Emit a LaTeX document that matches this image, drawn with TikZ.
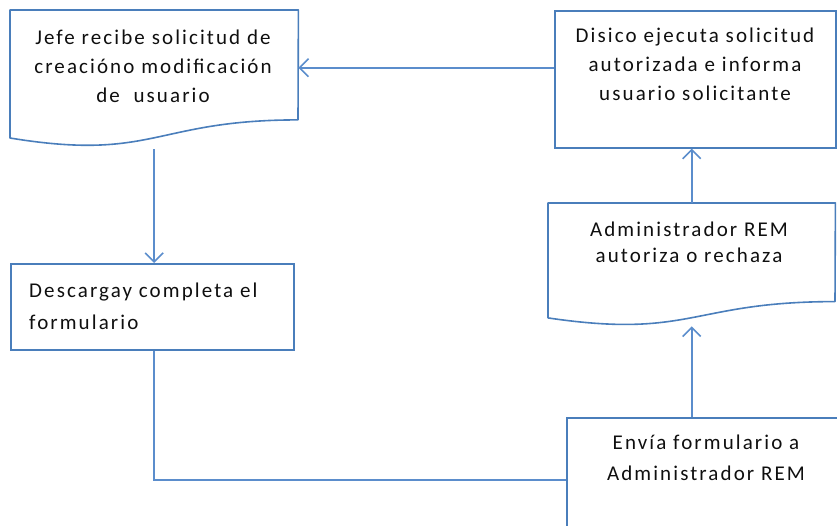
\documentclass[tikz,border=0pt]{standalone}
\usepackage{fontspec}
\setmainfont{Carlito}[LetterSpace=10]
\usetikzlibrary{arrows.meta,calc}
\definecolor{boxline}{RGB}{74,126,187}
\definecolor{conn}{RGB}{91,141,204}
\definecolor{txtcol}{RGB}{15,15,15}
\tikzset{
  shapebox/.style={rectangle, draw=none, inner sep=0pt, anchor=north west},
  rectbox/.style={rectangle, draw=boxline, line width=1.6pt, inner sep=0pt, anchor=north west},
  docline/.style={draw=boxline, line width=1.6pt, line join=round},
  txt/.style={text=txtcol, inner sep=0pt, align=center, font=\fontsize{21}{29}\selectfont},
  arr/.style={draw=conn, line width=1.6pt, -{Straight Barb[length=9pt,width=18pt,line width=1.6pt]}},
  plainline/.style={draw=conn, line width=1.6pt},
}
\begin{document}
\begin{tikzpicture}[x=1pt,y=-1pt]
\clip (0,0) rectangle (837,525);
% shapes
\node[shapebox, minimum width=288pt, minimum height=137pt] (jefe) at (10,10) {};
\node[rectbox, minimum width=281pt, minimum height=137pt] (disico) at (554,10) {};
\node[shapebox, minimum width=287pt, minimum height=123pt] (admin) at (548,203) {};
\node[rectbox, minimum width=283pt, minimum height=86pt] (descarga) at (10,263) {};
\node[rectbox, minimum width=290pt, minimum height=124pt] (envia) at (566,417) {};
% document outlines
\draw[docline] (jefe.north west) -- (jefe.north east) -- (298,119.9)
  .. controls (154,119.9) and (154,161.7) .. (10,138) -- cycle;
\draw[docline] (admin.north west) -- (admin.north east) -- (835,301.6)
  .. controls (691.5,301.6) and (691.5,339.2) .. (548,317.9) -- cycle;
% texts
\node[txt] (jefe-t) at (153,66.5) {Jefe recibe solicitud de\\creacióno modificación\\de\ \ usuario};
\node[txt] (disico-t) at (695,64) {Disico ejecuta solicitud\\autorizada e informa\\usuario solicitante};
\node[txt, font=\fontsize{21}{26}\selectfont] (admin-t) at (689,242.5) {Administrador REM\\autoriza o rechaza};
\node[txt, align=left, anchor=west, font=\fontsize{21}{32}\selectfont] (descarga-t) at (29,306) {Descargay completa el\\formulario};
\node[txt, font=\fontsize{21}{31}\selectfont] (envia-t) at (706,458) {Envía formulario a\\Administrador REM};
% connectors
\coordinate (jefe-in) at ($(jefe.north east)!0.42!(jefe.south east)$);
\draw[arr] (disico.west |- jefe-in) -- (jefe-in);
\draw[arr] ($(jefe.south)+(0,2)$) -- (jefe.south |- descarga.north);
\draw[arr] (admin.north) -- (admin.north |- disico.south);
\draw[arr] (admin.south |- envia.north) -- (admin.south);
\draw[plainline] (jefe.south |- descarga.south) |- (envia.west);
\end{tikzpicture}
\end{document}
